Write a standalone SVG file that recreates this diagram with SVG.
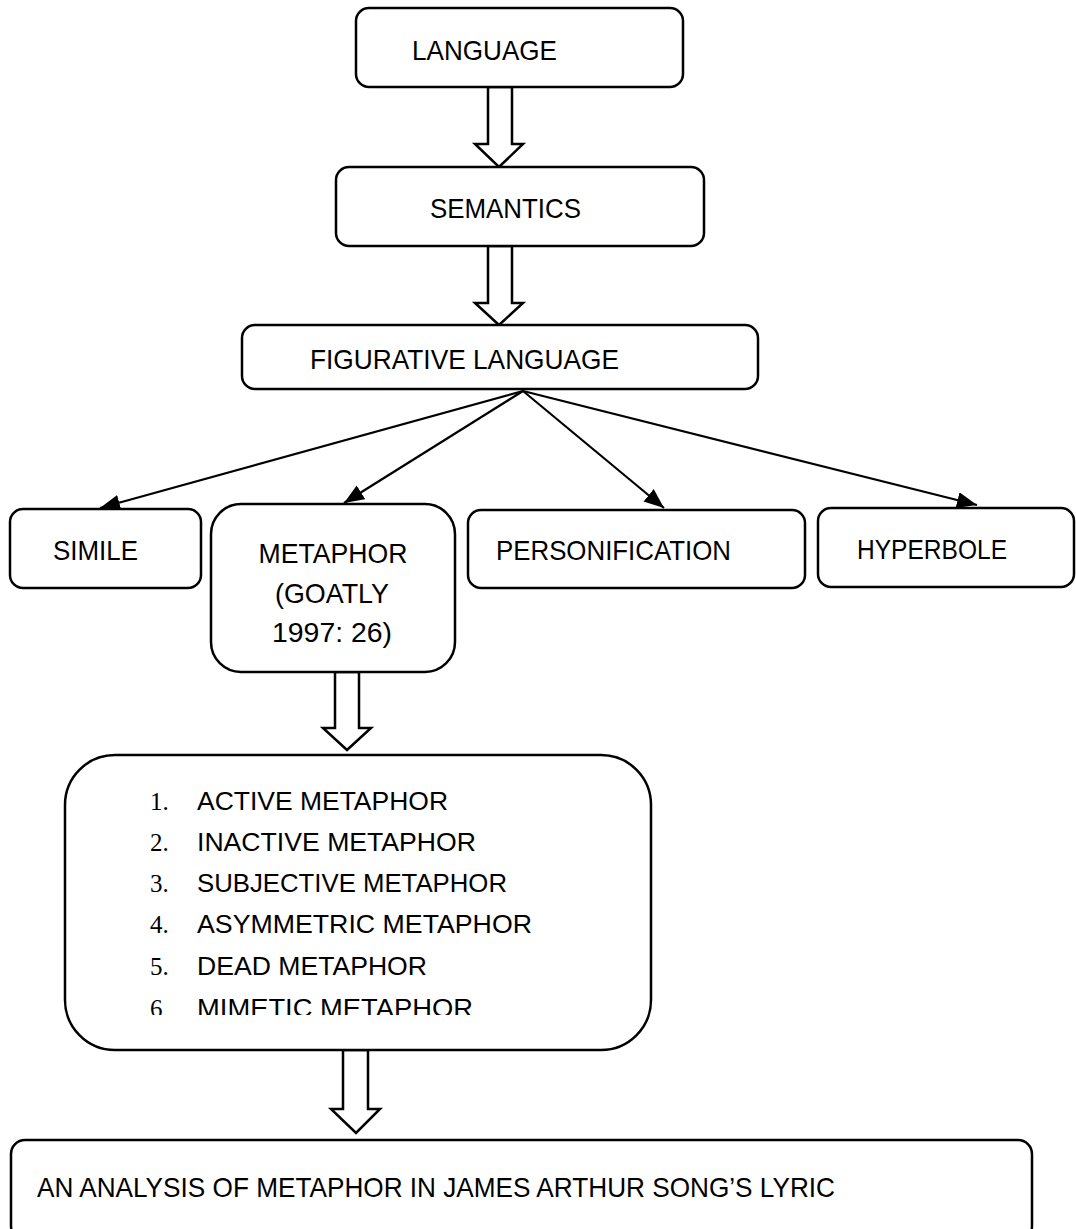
<svg xmlns="http://www.w3.org/2000/svg" width="1076" height="1229" viewBox="0 0 1076 1229">
<style>
.box{fill:#fff;stroke:#000;stroke-width:2.5}
.t{font-family:"Liberation Sans",Arial,sans-serif;font-size:28px;fill:#000}
.li{font-family:"Liberation Sans",Arial,sans-serif;font-size:25px;fill:#000}
.num{font-family:"Liberation Serif","Times New Roman",serif;font-size:25px;fill:#000}
.ln{stroke:#000;stroke-width:2.2;fill:none}
.blk{fill:#fff;stroke:#000;stroke-width:2.5;stroke-linejoin:miter}
</style>
<defs>
<marker id="ah" markerUnits="userSpaceOnUse" markerWidth="22" markerHeight="18" refX="20" refY="8" orient="auto">
<path d="M0,0 L20,8 L0,16 Z" fill="#000"/>
</marker>
<clipPath id="clip6"><rect x="100" y="980" width="500" height="35"/></clipPath>
</defs>
<rect width="1076" height="1229" fill="#fff"/>

<g id="connectors">
<path class="blk" d="M488,87 L512,87 L512,144 L523,144 L499,167 L475,144 L488,144 Z"/>
<path class="blk" d="M488,246 L512,246 L512,303 L523,303 L499,325 L475,303 L488,303 Z"/>
<line class="ln" x1="523" y1="391" x2="100" y2="508" marker-end="url(#ah)"/>
<line class="ln" x1="523" y1="391" x2="344" y2="503" marker-end="url(#ah)"/>
<line class="ln" x1="523" y1="391" x2="664" y2="508" marker-end="url(#ah)"/>
<line class="ln" x1="523" y1="391" x2="977" y2="505" marker-end="url(#ah)"/>
<path class="blk" d="M335,672 L359,672 L359,728 L371,728 L347,750 L323,728 L335,728 Z"/>
<path class="blk" d="M343,1050 L368,1050 L368,1109 L380,1109 L356,1133 L331,1109 L343,1109 Z"/>
</g>

<g id="language">
<rect class="box" x="356" y="8" width="327" height="79" rx="13"/>
<text class="t" x="412" y="60" textLength="145" lengthAdjust="spacingAndGlyphs">LANGUAGE</text>
</g>

<g id="semantics">
<rect class="box" x="336" y="167" width="368" height="79" rx="13"/>
<text class="t" x="430" y="218" textLength="151" lengthAdjust="spacingAndGlyphs">SEMANTICS</text>
</g>

<g id="figurative">
<rect class="box" x="242" y="325" width="516" height="64" rx="13"/>
<text class="t" x="310" y="369" textLength="309" lengthAdjust="spacingAndGlyphs">FIGURATIVE LANGUAGE</text>
</g>

<g id="simile">
<rect class="box" x="10" y="509" width="191" height="79" rx="13"/>
<text class="t" x="53" y="560" textLength="85" lengthAdjust="spacingAndGlyphs">SIMILE</text>
</g>

<g id="metaphor">
<rect class="box" x="211" y="504" width="244" height="168" rx="30"/>
<text class="t" x="333" y="563" text-anchor="middle" textLength="149" lengthAdjust="spacingAndGlyphs">METAPHOR</text>
<text class="t" x="332" y="603" text-anchor="middle" textLength="114" lengthAdjust="spacingAndGlyphs">(GOATLY</text>
<text class="t" x="332" y="642" text-anchor="middle" textLength="120" lengthAdjust="spacingAndGlyphs">1997: 26)</text>
</g>

<g id="personification">
<rect class="box" x="468" y="510" width="337" height="78" rx="13"/>
<text class="t" x="496" y="560" textLength="235" lengthAdjust="spacingAndGlyphs">PERSONIFICATION</text>
</g>

<g id="hyperbole">
<rect class="box" x="818" y="508" width="256" height="79" rx="13"/>
<text class="t" x="857" y="559" textLength="150" lengthAdjust="spacingAndGlyphs">HYPERBOLE</text>
</g>

<g id="types">
<rect class="box" x="65" y="755" width="586" height="295" rx="50"/>
<text class="num" x="150" y="810">1.</text>
<text class="li" x="197" y="810" textLength="251" lengthAdjust="spacingAndGlyphs">ACTIVE METAPHOR</text>
<text class="num" x="150" y="851">2.</text>
<text class="li" x="197" y="851" textLength="279" lengthAdjust="spacingAndGlyphs">INACTIVE METAPHOR</text>
<text class="num" x="150" y="892">3.</text>
<text class="li" x="197" y="892" textLength="310" lengthAdjust="spacingAndGlyphs">SUBJECTIVE METAPHOR</text>
<text class="num" x="150" y="933">4.</text>
<text class="li" x="197" y="933" textLength="335" lengthAdjust="spacingAndGlyphs">ASYMMETRIC METAPHOR</text>
<text class="num" x="150" y="975">5.</text>
<text class="li" x="197" y="975" textLength="230" lengthAdjust="spacingAndGlyphs">DEAD METAPHOR</text>
<g clip-path="url(#clip6)">
<text class="num" x="150" y="1017">6</text>
<text class="li" x="197" y="1017" textLength="276" lengthAdjust="spacingAndGlyphs">MIMETIC METAPHOR</text>
</g>
</g>

<g id="analysis">
<rect class="box" x="11" y="1140" width="1021" height="100" rx="14"/>
<text class="t" x="37" y="1197" textLength="798" lengthAdjust="spacingAndGlyphs">AN ANALYSIS OF METAPHOR IN JAMES ARTHUR SONG’S LYRIC</text>
</g>
</svg>
